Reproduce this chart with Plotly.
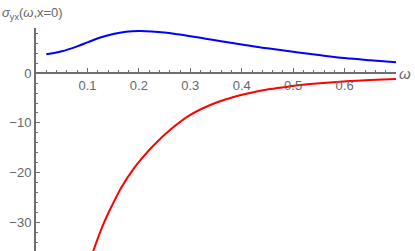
import plotly.graph_objects as go

# Data
omega_blue = [0.02, 0.05, 0.08, 0.10, 0.125, 0.15, 0.175, 0.20, 0.225, 0.25, 0.275, 0.30,
              0.33, 0.36, 0.40, 0.45, 0.50, 0.55, 0.60, 0.65, 0.70]
sigma_blue = [3.8, 4.4, 5.4, 6.2, 7.2, 7.9, 8.35, 8.5, 8.42, 8.2, 7.85, 7.45,
              6.95, 6.45, 5.8, 5.0, 4.3, 3.65, 3.05, 2.6, 2.2]

omega_red = [0.11, 0.129, 0.148, 0.167, 0.19, 0.203, 0.229, 0.261, 0.30, 0.339, 0.378,
             0.416, 0.455, 0.494, 0.533, 0.572, 0.611, 0.65, 0.70]
sigma_red = [-36.2, -30.9, -26.6, -22.8, -19.2, -17.5, -14.5, -11.4, -8.4, -6.4, -5.0,
             -4.0, -3.2, -2.65, -2.2, -1.85, -1.58, -1.38, -1.15]

x_ticks = [0.1, 0.2, 0.3, 0.4, 0.5, 0.6]
x_ticklabels = ["0.1", "0.2", "0.3", "0.4", "0.5", "0.6"]
y_ticks = [-30, -20, -10, 0]
y_ticklabels = ["\u221230", "\u221220", "\u221210", "0"]

x_range = [0, 0.7]
y_range = [-35.8, 9.1]

axis_color = "#6e6e6e"
label_color = "#666666"
font_family = "Liberation Sans, Arial, sans-serif"

fig = go.Figure()
fig.add_trace(go.Scatter(x=omega_blue, y=sigma_blue, mode="lines", line_shape="spline",
                         line=dict(color="#0000ff", width=2), showlegend=False))
fig.add_trace(go.Scatter(x=omega_red, y=sigma_red, mode="lines", line_shape="spline",
                         line=dict(color="#ff0000", width=2), showlegend=False))

zero_pos = (0 - y_range[0]) / (y_range[1] - y_range[0])

fig.update_layout(
    width=415, height=251,
    margin=dict(l=36, r=19, t=28, b=0),
    paper_bgcolor="white", plot_bgcolor="white",
    font=dict(family=font_family, size=13, color=label_color),
    xaxis=dict(range=x_range, anchor="free", position=zero_pos,
               showgrid=False, zeroline=False, showline=True, linecolor=axis_color, linewidth=2,
               tickvals=x_ticks, ticktext=x_ticklabels, ticks="inside", ticklen=4, tickwidth=1,
               tickcolor=axis_color,
               minor=dict(dtick=0.02, tick0=0, ticks="inside", ticklen=2, tickcolor=axis_color),
               tickfont=dict(size=13, color=label_color)),
    yaxis=dict(range=y_range, showgrid=False, zeroline=False, showline=True,
               linecolor=axis_color, linewidth=2,
               tickvals=y_ticks, ticktext=y_ticklabels, ticks="inside", ticklen=4, tickwidth=1,
               tickcolor=axis_color,
               minor=dict(dtick=2, tick0=0, ticks="inside", ticklen=2, tickcolor=axis_color),
               tickfont=dict(size=13, color=label_color)),
    annotations=[
        dict(text="<i>\u03c3</i><sub>yx</sub>(<i>\u03c9</i>,x=0)", xref="paper", yref="paper",
             x=-36/360, y=1 + 15/223, xanchor="left", yanchor="middle", showarrow=False,
             font=dict(size=13, color=label_color)),
        dict(text="<i>\u03c9</i>", xref="paper", yref="paper",
             x=1 + 9/360, y=zero_pos, xanchor="center", yanchor="middle", showarrow=False,
             font=dict(size=15, color=label_color)),
    ],
)

fig.write_html("out.html", config={"displayModeBar": False},
               post_script="document.body.style.margin='0';document.body.style.overflow='hidden';")
